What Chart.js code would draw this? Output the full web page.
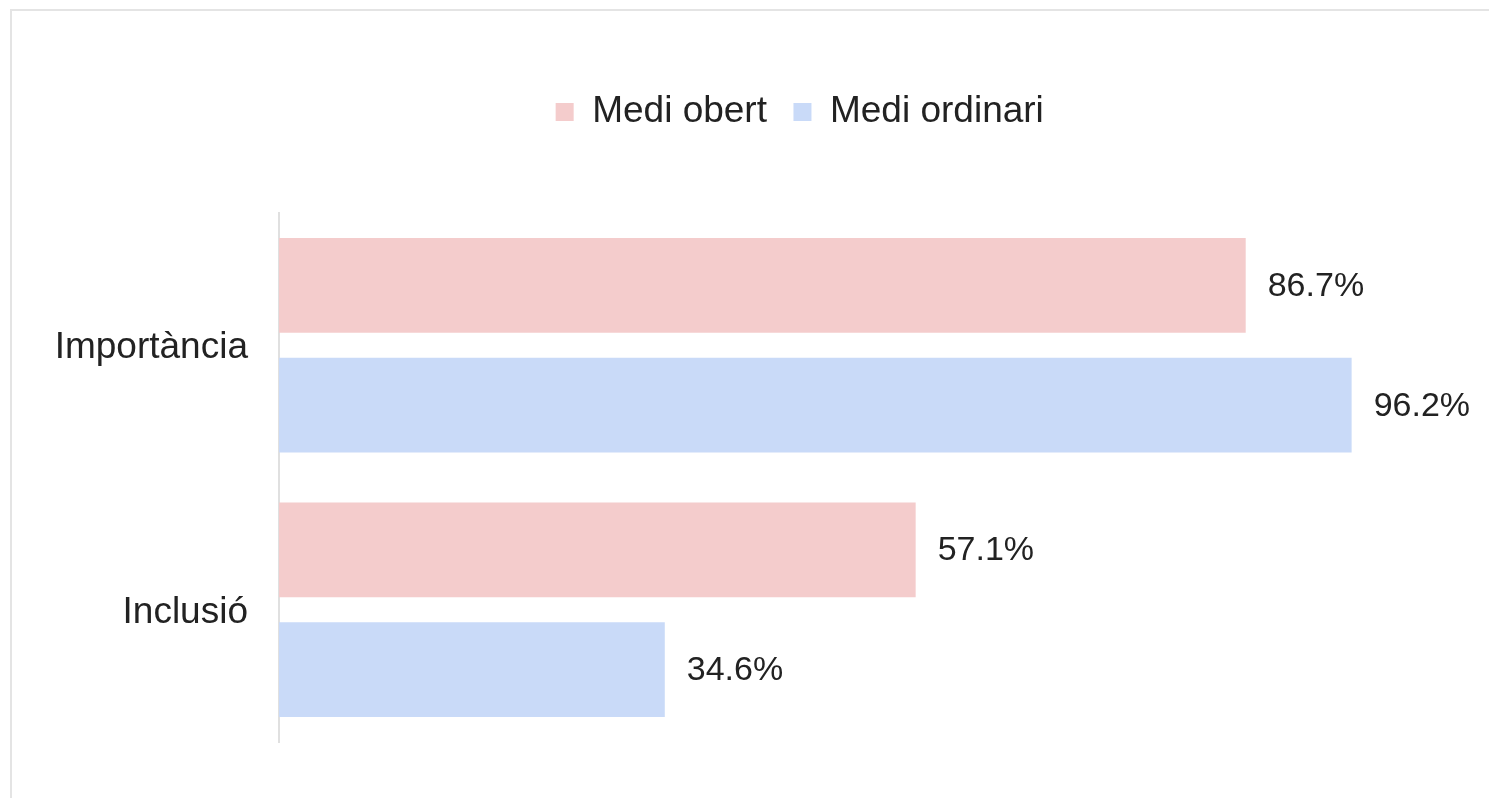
<!DOCTYPE html>
<html lang="ca">
<head>
    <meta charset="UTF-8">
    <title>Medi obert / Medi ordinari</title>
    <script src="https://cdn.jsdelivr.net/npm/chart.js@4.4.1/dist/chart.umd.min.js"></script>
    <style>
        html, body { margin: 0; padding: 0; background: #fff; overflow: hidden; }
        .frame {
            position: absolute; left: 10px; top: 9px; width: 1600px; height: 900px;
            border-top: 2px solid #e4e4e4; border-left: 2px solid #e4e4e4;
        }
        #chart { position: absolute; left: 0; top: 0; }
    </style>
</head>
<body>
<div class="frame"></div>
<canvas id="chart" width="1489" height="798"></canvas>
<script>
    const categories = ['Importància', 'Inclusió']
    const seriesNames = ['Medi obert', 'Medi ordinari']
    const mediObert = [86.7, 57.1]
    const mediOrdinari = [96.2, 34.6]
    const colors = ['#f4cccc', '#c9daf8']

    const font = 'Liberation Sans, Arial, sans-serif'

    // draws the "86.7%" labels at the end of each bar
    const valueLabels = {
        id: 'valueLabels',
        afterDatasetsDraw(chart) {
            let ctx = chart.ctx
            ctx.save()
            ctx.font = '34px ' + font
            ctx.fillStyle = '#222'
            ctx.textAlign = 'left'
            ctx.textBaseline = 'middle'
            chart.data.datasets.forEach(function (ds, i) {
                chart.getDatasetMeta(i).data.forEach(function (bar, j) {
                    ctx.fillText(ds.data[j].toFixed(1) + '%', bar.x + 22, bar.y + 1)
                })
            })
            ctx.restore()
        }
    }

    // legend: room below it, and moved right like the original
    const legendTweaks = {
        id: 'legendTweaks',
        beforeInit(chart) {
            const legend = chart.legend
            const fit = legend.fit
            legend.fit = function () {
                fit.call(legend)
                legend.height += 72.5
            }
        },
        afterLayout(chart) {
            chart.legend.left = 205.5
        }
    }

    let ctx = document.getElementById('chart').getContext('2d')
    let chart = new Chart(ctx, {
        type: 'bar',
        data: {
            labels: categories,
            datasets: [
                {
                    label: seriesNames[0],
                    data: mediObert,
                    backgroundColor: colors[0],
                    barPercentage: 0.79,
                    categoryPercentage: 0.907,
                },
                {
                    label: seriesNames[1],
                    data: mediOrdinari,
                    backgroundColor: colors[1],
                    barPercentage: 0.79,
                    categoryPercentage: 0.907,
                },
            ],
        },
        options: {
            indexAxis: 'y',
            responsive: false,
            animation: false,
            layout: {
                padding: {top: 67, right: 95, bottom: 56, left: 0},
            },
            scales: {
                x: {
                    display: false,
                    min: 0,
                    max: 100,
                },
                y: {
                    grid: {display: false, drawTicks: false},
                    border: {color: '#e0e0e0', width: 2},
                    ticks: {
                        color: '#222',
                        padding: 31,
                        labelOffset: 3,
                        font: {family: font, size: 37},
                    },
                    afterFit(scale) {
                        scale.width = 279
                    },
                },
            },
            plugins: {
                legend: {
                    position: 'top',
                    labels: {
                        color: '#222',
                        boxWidth: 18,
                        boxHeight: 18,
                        padding: 26.5,
                        font: {family: font, size: 37},
                    },
                },
                tooltip: {enabled: false},
            },
        },
        plugins: [valueLabels, legendTweaks],
    })
</script>
</body>
</html>
